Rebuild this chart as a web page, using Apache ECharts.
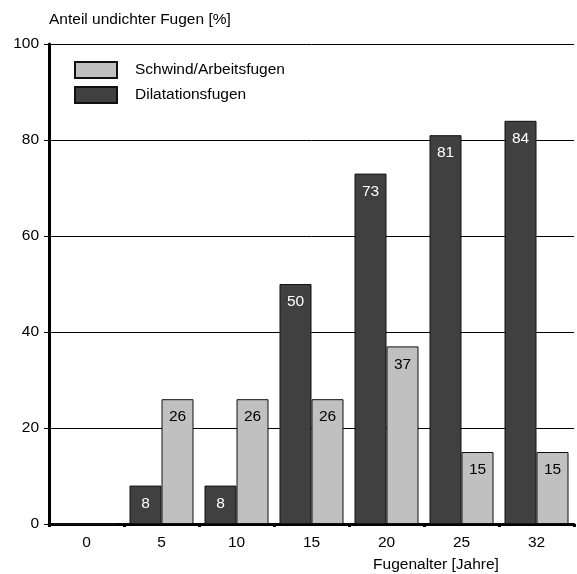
<!DOCTYPE html>
<html><head><meta charset="utf-8">
<script src="https://cdn.jsdelivr.net/npm/echarts@6/dist/echarts.min.js"></script>
<style>html,body{margin:0;padding:0;background:#fff}#c{width:577px;height:574px}</style>
</head><body><div id="c"></div>
<script>
const categories = ['0','5','10','15','20','25','32'];
const dilatation = [0, 8, 8, 50, 73, 81, 84];
const schwind = [0, 26, 26, 26, 37, 15, 15];
const yTicks = [0, 20, 40, 60, 80, 100];
const FONT = 'Liberation Sans, Arial, sans-serif';
const FS = 15.5;
const chart = echarts.init(document.getElementById('c'), null, {renderer:'canvas'});
chart.setOption({
  animation:false,
  backgroundColor:'#fff',
  textStyle:{fontFamily:FONT},
  grid:{left:49, top:44, right:3, bottom:50, containLabel:false, outerBoundsMode:'none'},
  legend:{
    orient:'vertical', left:69, top:56, itemWidth:42, itemHeight:16, itemGap:7,
    icon:'rect',
    textStyle:{fontFamily:FONT, fontSize:FS, color:'#000', padding:[0,0,0,13]},
    data:['Schwind/Arbeitsfugen','Dilatationsfugen']
  },
  xAxis:{
    type:'category', data:categories,
    name:'Fugenalter [Jahre]', nameLocation:'middle', nameGap:33,
    nameTextStyle:{fontFamily:FONT, fontSize:FS, color:'#000', align:'center', padding:[0,0,0,249]},
    axisLine:{lineStyle:{color:'#000', width:3}},
    axisTick:{show:true, length:3, lineStyle:{color:'#000', width:3}},
    axisLabel:{fontFamily:FONT, fontSize:FS, color:'#000', margin:11}
  },
  yAxis:{
    type:'value', min:yTicks[0], max:yTicks[yTicks.length-1], interval:20,
    name:'Anteil undichter Fugen [%]', nameLocation:'end', nameGap:16,
    nameTextStyle:{fontFamily:FONT, fontSize:FS, color:'#000', align:'left', padding:[0,0,0,0]},
    axisLine:{show:true, lineStyle:{color:'#000', width:3}},
    axisTick:{show:true, length:5, lineStyle:{color:'#000', width:1}},
    axisLabel:{fontFamily:FONT, fontSize:FS, color:'#000', margin:10},
    splitLine:{show:true, lineStyle:{color:'#000', width:1}}
  },
  series:[
    {
      name:'Dilatationsfugen', type:'bar', data:dilatation,
      barWidth:32, barGap:'0%',
      itemStyle:{color:'#404040', borderColor:'#111', borderWidth:1},
      label:{show:true, position:'insideTop', distance:10, color:'#fff', fontFamily:FONT, fontSize:FS,
        formatter:p=>p.value>0?p.value:''}
    },
    {
      name:'Schwind/Arbeitsfugen', type:'bar', data:schwind,
      barWidth:32, barGap:'0%',
      itemStyle:{color:'#c0c0c0', borderColor:'#111', borderWidth:1},
      label:{show:true, position:'insideTop', distance:10, color:'#000', fontFamily:FONT, fontSize:FS,
        formatter:p=>p.value>0?p.value:''}
    }
  ]
});
</script></body></html>
